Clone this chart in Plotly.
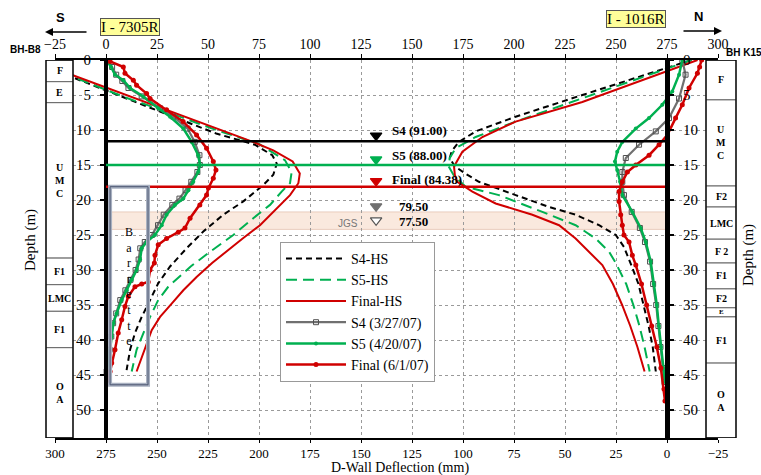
import plotly.graph_objects as go

# ---------------- data ----------------
# Left inclinometer I-7305R (top axis, deflection in mm), depth in m
L_S4HS_depth = [0, 2.7, 5.3, 8.0, 10.5, 12.1, 13.6, 14.8, 16.4, 17.9, 20.2, 22.1, 24.5, 26.9, 29.5, 31.9, 34.3, 36.7, 39.0, 41.4, 44.3]
L_S4HS_defl = [-38, -14.7, 8.3, 32, 54, 73, 81.5, 83.7, 82, 77, 67.3, 57.5, 47.7, 39.5, 31.4, 25.6, 21.6, 17.5, 14.2, 11.8, 10.1]
L_S5HS_depth = [0, 2.7, 5.3, 7.4, 10.0, 12.0, 14.3, 16.0, 17.6, 18.8, 20.7, 22.6, 25.0, 27.4, 29.5, 32.4, 34.3, 36.7, 39.0, 41.4, 44.5]
L_S5HS_defl = [-37, -14, 9, 29.7, 54, 75, 87.7, 91, 90.2, 86.1, 80.4, 72.2, 62.4, 51, 41.5, 30.5, 25.6, 21.6, 18.3, 15, 12.6]
L_FinHS_depth = [0, 1.5, 3.6, 6.0, 8.5, 10.5, 11.7, 12.9, 14.5, 16.2, 17.6, 19.3, 21.2, 23.6, 25.5, 27.1, 29.0, 31.0, 32.9, 34.8, 36.7, 38.6, 40.5, 42.4, 44.5]
L_FinHS_defl = [-36.4, -22.5, -2.9, 19.5, 42.5, 61, 72, 82, 91.5, 95, 94.3, 90.2, 83.7, 75.5, 67, 60, 52, 44.4, 37.9, 32.2, 26.5, 22.4, 19.9, 17.5, 15]

L_S4_depth = [0, 1.0, 2.1, 3.0, 4.0, 5.2, 6.9, 8.1, 9.8, 11.7, 13.6, 15.0, 16.0, 17.4, 18.6, 19.8, 20.7, 22.1, 23.6, 25.0, 26.0, 26.9, 28.5, 30.0, 31.4, 32.9, 34.3, 36.2, 37.6, 39.5, 41.4, 43.3, 44.5]
L_S4_defl = [0.5, 3, 5, 8, 11, 17.5, 26.5, 33, 40, 43.5, 45.8, 46, 44.8, 41.8, 39, 36, 32.5, 28.3, 25.5, 22.5, 19, 16.8, 16, 14.5, 12, 9.5, 7, 5, 3.5, 2.6, 1.8, 1.0, 0.3]
L_S5_depth = [0, 1.0, 2.1, 2.9, 4.0, 5.2, 6.9, 8.1, 9.8, 11.7, 13.6, 15.0, 16.0, 17.4, 18.6, 19.8, 20.7, 22.1, 23.6, 25.0, 26.0, 26.9, 28.5, 30.0, 31.4, 32.9, 34.3, 36.2, 37.6, 39.5, 41.4, 43.3, 44.5]
L_S5_defl = [0.3, 2.5, 4.4, 8.5, 11.8, 18.3, 25.6, 31.4, 37.9, 42, 45.2, 46.1, 45.2, 42.8, 40.4, 37.9, 33.8, 29.7, 27.3, 24, 19.9, 17.5, 16.7, 15, 12.6, 10.1, 7.7, 5.2, 3.6, 2.8, 2, 1.1, 0.3]
L_Fin_depth = [0.2, 1.0, 1.9, 2.9, 3.6, 4.8, 5.5, 7.1, 8.8, 10.7, 12.6, 14.5, 15.7, 16.9, 18.3, 19.3, 20.7, 22.6, 24.0, 24.6, 25.5, 26.4, 27.9, 29.0, 30.0, 31.7, 32.0, 32.4, 33.8, 35.2, 37.1, 39.0, 41.4, 43.3, 44.5, 45.8]
L_Fin_defl = [2, 8.5, 9.3, 13.4, 15, 19.9, 21.6, 29.7, 37.8, 44.4, 49.3, 52.6, 53.9, 52.6, 50.2, 49.3, 46, 41.2, 38.7, 35.4, 29.7, 25.6, 24, 23.7, 21.6, 20.7, 17.5, 14.2, 10.9, 9.3, 7.7, 6, 4.4, 2.8, 2, 0.5]

# Right inclinometer I-1016R (bottom axis, deflection in mm)
R_S4HS_depth = [0, 2.5, 5.0, 8.1, 10.2, 11.7, 13.0, 14.0, 15.2, 16.2, 17.4, 19.3, 21.0, 22.1, 23.6, 25.0, 26.7, 29.3, 32, 35, 38, 41, 44.5]
R_S4HS_defl = [-12, 15, 41.5, 74.2, 93.8, 102, 105.5, 106.5, 104, 99, 92.2, 74.2, 57.8, 44.8, 33.3, 25.1, 21.1, 17.5, 14, 11.5, 9, 7, 5.5]
R_S5HS_depth = [0, 2.5, 5.5, 8.8, 11.0, 12.6, 14.0, 15.2, 16.5, 18.1, 19.3, 20.5, 21.7, 23.6, 25.5, 27.4, 29.0, 32, 35, 38, 41, 44.5]
R_S5HS_defl = [-12, 12.5, 41.5, 74.2, 93.8, 103.6, 106.5, 107, 104.5, 98.7, 82.4, 71.5, 61.1, 44.8, 35, 28.4, 25.1, 20, 16.5, 13.5, 11, 8.5]
R_FinHS_depth = [0, 3.0, 6.0, 8.8, 11.0, 13.1, 15.2, 16.4, 17.4, 18.8, 20.5, 22.1, 23.6, 25.5, 27.9, 29.3, 32, 35, 38, 41, 44.5]
R_FinHS_defl = [-15, 13, 41.5, 74.2, 90.5, 100.3, 104.4, 104, 102.8, 95.4, 84, 66, 52.9, 44.8, 36.6, 31.7, 26.5, 22, 18, 14.5, 11]

R_S4_depth = [0, 2.1, 5.5, 8.3, 10.2, 12.1, 14.0, 16.0, 17.4, 19.3, 21.7, 24.0, 26.0, 28.8, 32, 35, 38, 41, 44, 46]
R_S4_defl = [-7.5, -9.1, -5.9, -1, 5.5, 13.7, 20.2, 21.9, 21.9, 21.1, 17.3, 13.3, 10.8, 8.3, 6.8, 5.3, 4.2, 3.2, 2.2, 1.2]
R_S5_depth = [0, 2.1, 4.5, 6.4, 8.3, 9.8, 11.7, 13.1, 14.5, 15.7, 17.4, 19.3, 21.7, 24.0, 26.0, 28.8, 32, 35, 38, 41, 44, 46]
R_S5_defl = [-7.5, -5.9, -2.6, 2.3, 8.8, 15.3, 21.9, 24.4, 25.5, 24.4, 23, 21.9, 17, 12.9, 10.4, 8, 6.5, 5, 4, 3, 2, 1]
R_Fin_depth = [0, 1.0, 1.9, 4.0, 6.4, 8.3, 10.7, 12.1, 13.6, 15.0, 16.0, 17.4, 18.8, 20.2, 22.1, 23.6, 25.0, 26.0, 27.9, 29.3, 32, 35, 38, 41, 44, 47, 48.7]
R_Fin_defl = [-17, -16, -14.9, -10.8, -7.5, -4.2, -0.2, 3.9, 8.8, 15.3, 19.4, 21.9, 23.5, 23.5, 22.7, 21.9, 21.1, 18.6, 17, 15.3, 12.5, 10, 7.5, 5, 3, 1.5, 1]

# Excavation levels (depth, m) and labels
LEVEL_LABELS = ["S4 (91.00)", "S5 (88.00)", "Final (84.38)", "79.50", "77.50"]
LEVEL_DEPTHS = [11.6, 15.0, 18.1, 21.7, 23.7]
JGS_TOP, JGS_BOT = 21.7, 24.2
LEVEL_X = 142.6          # position of the level markers (bottom axis units)
WALL_LEFT, WALL_RIGHT = 275, 0   # wall positions on bottom axis
BARRETTE = (273, 254.4, 18.1, 46.4)

# Soil columns
SOIL_LEFT = [(0, 3.1, "F"), (3.1, 6.1, "E"), (6.1, 28.3, "U<br>M<br>C"), (28.3, 32.1, "F1"),
             (32.1, 35.9, "LMC"), (35.9, 41.1, "F1"), (41.1, 54, "O<br>A")]
SOIL_RIGHT = [(0, 5.7, "F"), (5.7, 18.0, "U<br>M<br>C"), (18.0, 21.0, "F2"), (21.0, 25.6, "LMC"),
              (25.6, 29.0, "F 2"), (29.0, 32.7, "F1"), (32.7, 35.4, "F2"), (35.4, 36.7, "E"),
              (36.7, 43.3, "F1"), (43.3, 54, "O<br>A")]

X_TICKS = list(range(300, -26, -25))
Y_TICKS = list(range(0, 51, 5))

# ---------------- styling ----------------
W, H = 761, 475
ML, MR, MT, MB = 55, 43, 60, 37
SERIF = "Liberation Serif, Times New Roman, serif"
SANS = "Liberation Sans, Arial, sans-serif"
GREEN = "#00B050"
RED = "#D00000"
GREY = "#707070"


def fx(p):
    return (p - ML) / (W - ML - MR)


def fy(q):
    return 1 - (q - MT) / (H - MT - MB)


fig = go.Figure()

hs_styles = [
    ("S4-HS", dict(color="black", width=2, dash="6px,4px")),
    ("S5-HS", dict(color=GREEN, width=2, dash="11px,6px")),
    ("Final-HS", dict(color=RED, width=2)),
]
ms_styles = [
    ("S4 (3/27/07)", dict(color=GREY, width=2.2), dict(symbol="square-open", size=5, color="#505050")),
    ("S5 (4/20/07)", dict(color=GREEN, width=2.5), dict(symbol="circle", size=4, color=GREEN)),
    ("Final (6/1/07)", dict(color=RED, width=2.5), dict(symbol="circle", size=5, color=RED)),
]

L_HS = [(L_S4HS_defl, L_S4HS_depth), (L_S5HS_defl, L_S5HS_depth), (L_FinHS_defl, L_FinHS_depth)]
R_HS = [(R_S4HS_defl, R_S4HS_depth), (R_S5HS_defl, R_S5HS_depth), (R_FinHS_defl, R_FinHS_depth)]
L_MS = [(L_S4_defl, L_S4_depth), (L_S5_defl, L_S5_depth), (L_Fin_defl, L_Fin_depth)]
R_MS = [(R_S4_defl, R_S4_depth), (R_S5_defl, R_S5_depth), (R_Fin_defl, R_Fin_depth)]

for (name, ln), (lx, ly), (rx, ry) in zip(hs_styles, L_HS, R_HS):
    fig.add_trace(go.Scatter(x=lx, y=ly, mode="lines", name=name, line=ln, legendgroup=name,
                             xaxis="x2", yaxis="y", hoverinfo="skip"))
    fig.add_trace(go.Scatter(x=rx, y=ry, mode="lines", name=name, line=ln, legendgroup=name,
                             showlegend=False, xaxis="x", yaxis="y", hoverinfo="skip"))

for (name, ln, mk), (lx, ly), (rx, ry) in zip(ms_styles, L_MS, R_MS):
    fig.add_trace(go.Scatter(x=lx, y=ly, mode="lines+markers", name=name, line=ln, marker=mk,
                             legendgroup=name, xaxis="x2", yaxis="y", hoverinfo="skip"))
    fig.add_trace(go.Scatter(x=rx, y=ry, mode="lines+markers", name=name, line=ln, marker=mk,
                             legendgroup=name, showlegend=False, xaxis="x", yaxis="y", hoverinfo="skip"))

# level markers (triangles)
tri_colors = ["black", GREEN, RED, GREY, "white"]
tri_lines = ["black", GREEN, RED, GREY, "#555555"]
fig.add_trace(go.Scatter(x=[LEVEL_X] * len(LEVEL_DEPTHS), y=[d - 0.8 for d in LEVEL_DEPTHS],
                         mode="markers", showlegend=False, hoverinfo="skip", xaxis="x", yaxis="y",
                         marker=dict(symbol="triangle-down", size=10, color=tri_colors,
                                     line=dict(color=tri_lines, width=1.2))))
# invisible trace so that the right-hand depth axis is drawn
fig.add_trace(go.Scatter(x=[WALL_RIGHT], y=[0], mode="markers", marker=dict(opacity=0),
                         showlegend=False, hoverinfo="skip", xaxis="x", yaxis="y2"))

shapes = []
# JGS band
shapes.append(dict(type="rect", xref="x", yref="y", x0=WALL_LEFT, x1=WALL_RIGHT, y0=JGS_TOP, y1=JGS_BOT,
                   fillcolor="rgba(245,215,195,0.55)", line=dict(color="rgba(220,180,160,0.6)", width=1),
                   layer="below"))
# level lines
for d, c in zip(LEVEL_DEPTHS[:3], ["black", GREEN, RED]):
    shapes.append(dict(type="line", xref="x", yref="y", x0=WALL_LEFT, x1=WALL_RIGHT, y0=d, y1=d,
                       line=dict(color=c, width=2.5), layer="above"))
# barrette box
bx0, bx1, by0, by1 = BARRETTE
shapes.append(dict(type="rect", xref="x", yref="y", x0=bx0, x1=bx1, y0=by0, y1=by1,
                   line=dict(color="#A8B0C0", width=4), layer="above"))
shapes.append(dict(type="rect", xref="x", yref="y", x0=bx0, x1=bx1, y0=by0, y1=by1,
                   line=dict(color="#4A5570", width=1), layer="above"))
# right wall line (thick)
shapes.append(dict(type="line", xref="x", yref="paper", x0=WALL_RIGHT, x1=WALL_RIGHT, y0=0, y1=1,
                   line=dict(color="black", width=4), layer="above"))

annotations = []
# soil columns
for layers, p0, p1, lblsize in [(SOIL_LEFT, 46, 73, 10), (SOIL_RIGHT, 706, 736, 10)]:
    for top, bot, lab in layers:
        shapes.append(dict(type="rect", xref="paper", yref="y", x0=fx(p0), x1=fx(p1), y0=top, y1=bot,
                           fillcolor="white", line=dict(color="#666666", width=1), layer="above"))
        size = 7 if (bot - top) < 2 else lblsize
        annotations.append(dict(xref="paper", yref="y", x=fx((p0 + p1) / 2), y=(top + bot) / 2,
                                xanchor="center", yanchor="middle",
                                text="<b>" + lab + "</b>", showarrow=False,
                                font=dict(family=SERIF, size=size, color="black")))
    shapes.append(dict(type="rect", xref="paper", yref="y", x0=fx(p0), x1=fx(p1), y0=0, y1=54,
                       line=dict(color="black", width=1.3), layer="above"))

# level labels
label_depths = [10.1, 13.6, 17.1, 20.9, 23.0]
label_x = [135.8, 135.8, 135.8, 132.5, 132.5]
for t, d, xx in zip(LEVEL_LABELS, label_depths, label_x):
    annotations.append(dict(xref="x", yref="y", x=xx, y=d, text="<b>" + t + "</b>", showarrow=False,
                            xanchor="left", yanchor="middle", font=dict(family=SERIF, size=13, color="black")))
annotations.append(dict(xref="x", yref="y", x=156.4, y=23.3, text="JGS", showarrow=False,
                        xanchor="center", yanchor="middle",
                        font=dict(family=SANS, size=10, color="#777777")))
annotations.append(dict(xref="x", yref="y", x=263.7, y=32.4, xanchor="center", yanchor="middle",
                        text="<br>".join(list("Barrette")), showarrow=False,
                        font=dict(family=SERIF, size=12, color="black")))


def ann(p, q, text, **kw):
    d = dict(xref="paper", yref="paper", x=fx(p), y=fy(q), text=text, showarrow=False,
             xanchor="center", yanchor="middle")
    d.update(kw)
    return d


annotations += [
    ann(400, 468, "D-Wall Deflection (mm)", font=dict(family=SERIF, size=14, color="black")),
    ann(30, 240, "Depth (m)", textangle=-90, font=dict(family=SERIF, size=15, color="black")),
    ann(748, 255, "Depth (m)", textangle=-90, font=dict(family=SERIF, size=15, color="black")),
    ann(129.5, 26.5, "I - 7305R", bgcolor="#FFFF99", bordercolor="#555555", borderwidth=1, borderpad=0,
        font=dict(family=SERIF, size=15, color="black")),
    ann(635.5, 18.5, "I - 1016R", bgcolor="#FFFF99", bordercolor="#555555", borderwidth=1, borderpad=0,
        font=dict(family=SERIF, size=15, color="black")),
    ann(60, 18, "<b>S</b>", font=dict(family=SANS, size=13, color="black")),
    ann(698, 16, "<b>N</b>", font=dict(family=SANS, size=13, color="black")),
    dict(xref="paper", yref="paper", x=fx(45), y=fy(32), ax=43, ay=0, text="", showarrow=True,
         arrowhead=2, arrowsize=1, arrowwidth=1.6, arrowcolor="black"),
    dict(xref="paper", yref="paper", x=fx(722), y=fy(31), ax=-40, ay=0, text="", showarrow=True,
         arrowhead=2, arrowsize=1, arrowwidth=1.6, arrowcolor="black"),
    ann(8, 50, "<b>BH-B8</b>", xanchor="left", font=dict(family=SANS, size=10, color="black")),
    ann(724, 53, "<b>BH K15</b>", xanchor="left", font=dict(family=SANS, size=10, color="black")),
]

axis_font = dict(family=SERIF, size=14, color="black")
fig.update_layout(
    width=W, height=H, margin=dict(l=ML, r=MR, t=MT, b=MB),
    paper_bgcolor="white", plot_bgcolor="white",
    xaxis=dict(range=[300, -25], tickvals=X_TICKS, showgrid=True, gridcolor="#9a9a9a", griddash="dot",
               gridwidth=1, showline=True, linecolor="black", linewidth=1.5, ticks="outside", ticklen=3,
               tickcolor="black", tickfont=dict(family=SERIF, size=13, color="black"), zeroline=False,
               anchor="y", ticklabelstandoff=0),
    xaxis2=dict(range=[-25, 300], tickvals=[275 - v for v in X_TICKS], overlaying="x", side="top",
                anchor="y", showgrid=False, showline=True, linecolor="black", linewidth=1.5,
                ticks="outside", ticklen=4, tickcolor="black", tickfont=axis_font, zeroline=False),
    yaxis=dict(range=[54, 0], tickvals=Y_TICKS, anchor="free", position=fx(106), showline=True,
               linecolor="black", linewidth=4, ticks="outside", ticklen=4, tickwidth=1.5, tickcolor="black",
               showgrid=True, gridcolor="#9a9a9a", griddash="dot", gridwidth=1, zeroline=False,
               tickfont=dict(family=SERIF, size=15, color="black"), ticklabelstandoff=6),
    yaxis2=dict(range=[54, 0], tickvals=Y_TICKS, overlaying="y", side="right", anchor="free",
                position=fx(668), showline=True, linecolor="black", linewidth=4, ticks="outside",
                ticklen=4, tickwidth=1.5, tickcolor="black", showgrid=False, zeroline=False,
                tickfont=dict(family=SERIF, size=15, color="black"), ticklabelstandoff=6),
    legend=dict(x=fx(280), y=fy(242), xanchor="left", yanchor="top", bgcolor="white",
                bordercolor="#999999", borderwidth=1, font=dict(family=SERIF, size=14, color="black"),
                tracegroupgap=0, itemwidth=60),
    shapes=shapes, annotations=annotations, showlegend=True,
)

fig.write_html("out.html")
